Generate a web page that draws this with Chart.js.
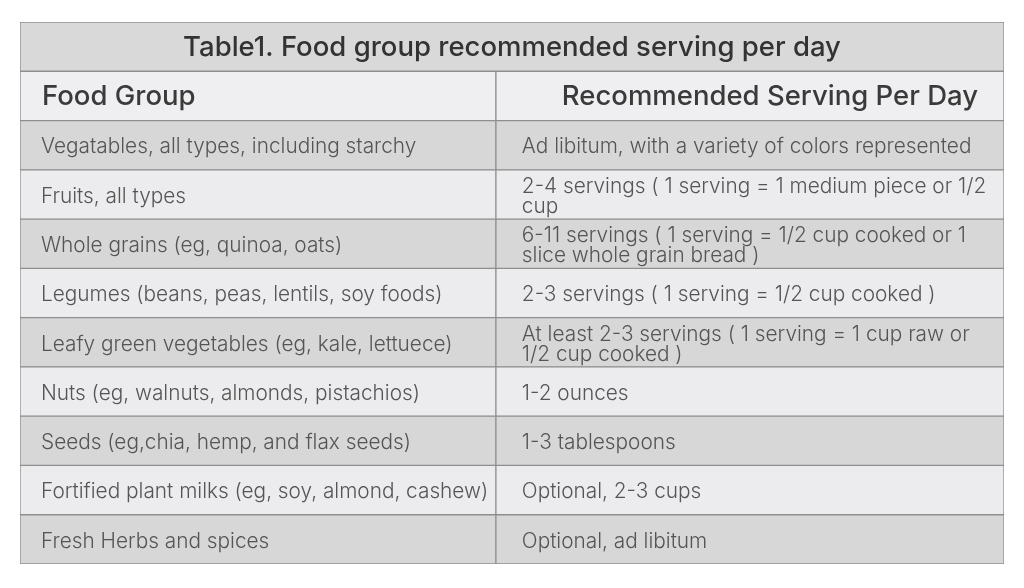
<!DOCTYPE html>
<html>
<head>
<meta charset="utf-8">
<script src="https://cdn.jsdelivr.net/npm/chart.js@4.4.1/dist/chart.umd.min.js"></script>
<style>
  html, body { margin: 0; background: #fff; }
  #wrap { width: 1024px; height: 588px; }
</style>
</head>
<body>
<div id="wrap"><canvas id="table"></canvas></div>
<script>
const title = "Table1. Food group recommended serving per day";
const headers = ["Food Group", "Recommended Serving Per Day"];
const foodGroups = [
  "Vegatables, all types, including starchy",
  "Fruits, all types",
  "Whole grains (eg, quinoa, oats)",
  "Legumes (beans, peas, lentils, soy foods)",
  "Leafy green vegetables (eg, kale, lettuece)",
  "Nuts (eg, walnuts, almonds, pistachios)",
  "Seeds (eg,chia, hemp, and flax seeds)",
  "Fortified plant milks (eg, soy, almond, cashew)",
  "Fresh Herbs and spices"
];
const servings = [
  "Ad libitum, with a variety of colors represented",
  "2-4 servings ( 1 serving = 1 medium piece or 1/2\ncup",
  "6-11 servings ( 1 serving = 1/2 cup cooked or 1\nslice whole grain bread )",
  "2-3 servings ( 1 serving = 1/2 cup cooked )",
  "At least 2-3 servings ( 1 serving = 1 cup raw or\n1/2 cup cooked )",
  "1-2 ounces",
  "1-3 tablespoons",
  "Optional, 2-3 cups",
  "Optional, ad libitum"
];

const rows = ["title", "header", ...foodGroups];
const split = 0.4836; // column divider, fraction of table width
const rowColors = rows.map((r, i) => i === 0 ? "#d9d9d9" : i === 1 ? "#efeff1" : (i % 2 === 0 ? "#d7d7d7" : "#ececee"));

function fitSize(ctx, text, target, weight, family) {
  ctx.font = weight + " 20px " + family;
  return 20 * target / ctx.measureText(text).width;
}

const FONT = "Inter";

const cellText = {
  id: "cellText",
  afterDatasetsDraw(chart) {
    const { ctx, scales: { x, y } } = chart;
    ctx.save();
    const left = x.getPixelForValue(0);
    const mid = x.getPixelForValue(split);
    const right = x.getPixelForValue(1);
    ctx.textBaseline = "middle";

    const titleSize = fitSize(ctx, title, 658, "500", FONT);
    ctx.font = "500 " + titleSize.toFixed(1) + "px " + FONT;
    ctx.fillStyle = "#333333";
    ctx.textAlign = "center";
    ctx.fillText(title, (left + right) / 2, y.getPixelForValue(0) + 1);

    const headSize = fitSize(ctx, headers[1], 416, "500", FONT);
    ctx.font = "500 " + headSize.toFixed(1) + "px " + FONT;
    ctx.fillStyle = "#3a3a3a";
    ctx.textAlign = "left";
    ctx.fillText(headers[0], left + 22, y.getPixelForValue(1) + 1);
    ctx.textAlign = "right";
    ctx.fillText(headers[1], right - 26, y.getPixelForValue(1) + 1);

    const bodySize = fitSize(ctx, foodGroups[7], 448, "300", FONT);
    ctx.font = "300 " + bodySize.toFixed(1) + "px " + FONT;
    ctx.fillStyle = "#555555";
    ctx.textAlign = "left";
    foodGroups.forEach((txt, i) => {
      const cy = y.getPixelForValue(i + 2) + 2;
      ctx.fillText(txt, left + 21, cy);
      const lines = servings[i].split("\n");
      lines.forEach((ln, k) => {
        ctx.fillText(ln, mid + 26, cy + (k - (lines.length - 1) / 2) * 20);
      });
    });
    ctx.restore();
  }
};

new Chart(document.getElementById("table"), {
  type: "bar",
  data: {
    labels: rows,
    datasets: [
      {
        label: "Food Group",
        data: rows.map((r, i) => i === 0 ? [0, 1] : [0, split]),
        backgroundColor: rowColors,
        borderColor: "#8e8e8e",
        borderWidth: 1,
        borderSkipped: false
      },
      {
        label: "Recommended Serving Per Day",
        data: rows.map((r, i) => i === 0 ? null : [split, 1]),
        backgroundColor: rowColors,
        borderColor: "#8e8e8e",
        borderWidth: 1,
        borderSkipped: false
      }
    ]
  },
  options: {
    indexAxis: "y",
    responsive: true,
    maintainAspectRatio: false,
    animation: false,
    events: [],
    layout: { padding: { left: 20, right: 20, top: 22, bottom: 24 } },
    datasets: { bar: { barPercentage: 1, categoryPercentage: 1 } },
    scales: {
      x: { type: "linear", min: 0, max: 1, display: false },
      y: { type: "category", stacked: true, display: false }
    },
    plugins: {
      legend: { display: false },
      tooltip: { enabled: false },
      title: { display: false }
    }
  },
  plugins: [cellText]
});
</script>
</body>
</html>
